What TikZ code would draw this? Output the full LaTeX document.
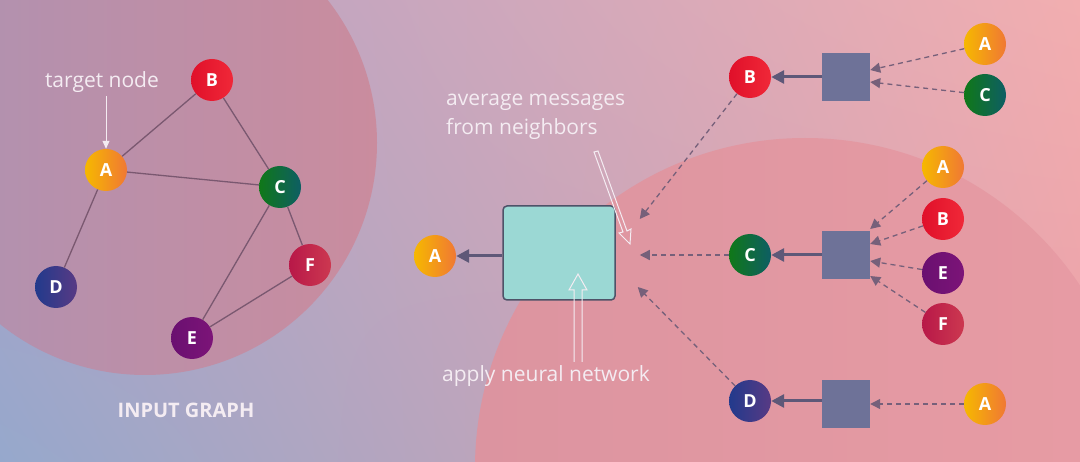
\documentclass[tikz,border=0pt]{standalone}
\usepackage{fontspec}
\setmainfont{Open Sans}
\usetikzlibrary{arrows.meta,shadings}
\definecolor{bgUL}{HTML}{B0A2C6}
\definecolor{bgLL}{HTML}{96A8CC}
\definecolor{bgUR}{HTML}{F2AEB0}
\definecolor{bgLR}{HTML}{EAA0A8}
\definecolor{circL1}{HTML}{AE92B2}
\definecolor{circL2}{HTML}{CA8C9E}
\definecolor{circR1}{HTML}{DC94A0}
\definecolor{circR2}{HTML}{E89CA4}
\definecolor{edgecol}{HTML}{7A5870}
\definecolor{arrcol}{HTML}{5E5878}
\definecolor{dashcol}{HTML}{76607A}
\definecolor{sqcol}{HTML}{6E7298}
\definecolor{boxfill}{HTML}{9BD8D4}
\definecolor{boxdraw}{HTML}{4E5268}
\definecolor{Ayel}{HTML}{F6B800}\definecolor{Aorg}{HTML}{F07834}
\definecolor{Bred1}{HTML}{E0102A}\definecolor{Bred2}{HTML}{F02838}
\definecolor{Cg1}{HTML}{107818}\definecolor{Cg2}{HTML}{0E5E64}
\definecolor{Db1}{HTML}{223A8C}\definecolor{Db2}{HTML}{583A84}
\definecolor{Ep1}{HTML}{6A1070}\definecolor{Ep2}{HTML}{7C1478}
\definecolor{Fr1}{HTML}{B81848}\definecolor{Fr2}{HTML}{CC3850}
\definecolor{labcol}{HTML}{F4ECF2}
\tikzset{
  gn/.style={circle, minimum size=42pt, inner sep=0pt, text=white,
    font=\fontsize{18}{18}\selectfont\bfseries},
  nA/.style={gn, left color=Ayel, right color=Aorg},
  nB/.style={gn, left color=Bred1, right color=Bred2},
  nC/.style={gn, left color=Cg1, right color=Cg2},
  nD/.style={gn, left color=Db1, right color=Db2},
  nE/.style={gn, left color=Ep1, right color=Ep2},
  nF/.style={gn, left color=Fr1, right color=Fr2},
  gedge/.style={draw=edgecol, line width=1.3pt},
  sq/.style={rectangle, fill=sqcol, minimum width=48pt, minimum height=48pt, inner sep=0pt},
  solidarr/.style={draw=arrcol, line width=3pt, -{Triangle[length=13pt,width=13pt]}},
  dasharr/.style={draw=dashcol, line width=1.3pt, dash pattern=on 5pt off 4pt, -{Triangle[length=10pt,width=10pt]}},
  lab/.style={text=labcol, font=\fontsize{21}{29}\selectfont, inner sep=0pt},
  hollow/.style={draw=labcol, line width=1pt}
}
\begin{document}
\begin{tikzpicture}[x=1pt,y=-1pt]
\useasboundingbox (0,0) rectangle (1080,462);
% background
\shade[upper left=bgUL, lower left=bgLL, upper right=bgUR, lower right=bgLR] (0,0) rectangle (1080,462);
\begin{scope}
\clip (0,0) rectangle (1080,462);
\shade[left color=circL1, right color=circL2] (145,143) circle (232);
\shade[left color=circR1, right color=circR2] (805,468) circle (330);
\end{scope}
% left graph
\node[nB] (gB) at (212,80) {B};
\node[nA] (gA) at (106,170) {A};
\node[nC] (gC) at (280,187) {C};
\node[nF] (gF) at (310,265) {F};
\node[nD] (gD) at (56,287) {D};
\node[nE] (gE) at (192,338) {E};
\draw[gedge] (gA) -- (gB);
\draw[gedge] (gA) -- (gC);
\draw[gedge] (gB) -- (gC);
\draw[gedge] (gA) -- (gD);
\draw[gedge] (gC) -- (gF);
\draw[gedge] (gC) -- (gE);
\draw[gedge] (gF) -- (gE);
\node[lab, anchor=center] (tn) at (102,82) {target node};
\coordinate (tnarr) at (106,96);
\draw[draw=labcol, line width=1pt, -{Triangle[length=8pt,width=7pt]}] (tnarr) -- (gA.north);
\node[text=labcol, font=\fontsize{20}{20}\selectfont\bfseries] (ig) at (186,410) {INPUT GRAPH};
% middle
\node[draw=boxdraw, line width=1.5pt, fill=boxfill, rounded corners=4pt, minimum width=112pt, minimum height=94pt, inner sep=0pt] (nn) at (559,253) {};
\node[nA] (mA) at (435,256) {A};
\draw[solidarr] (nn.west |- mA) -- (mA);
\node[lab, anchor=north west, align=left] (avg) at (446,94) {average messages\\from neighbors};
\node[lab, anchor=center] (app) at (546,376) {apply neural network};
% hollow arrows
\draw[hollow] (574,362) -- (574,290) -- (569,290) -- (578,274) -- (587,290) -- (582,290) -- (582,362);
\draw[hollow] (594,152) -- (623,232) -- (619,233) -- (630,244) -- (631,229) -- (627,231) -- (598,151) -- cycle;
% right side
\node[nB] (rB) at (750,77) {B};
\node[sq] (s1) at (846,77) {};
\node[nA] (r1A) at (985,44) {A};
\node[nC] (r1C) at (985,95) {C};
\draw[solidarr] (s1) -- (rB);
\draw[dasharr] (r1A) -- (s1.east |- 0,70);
\draw[dasharr] (r1C) -- (s1.east |- 0,82);

\node[nC] (rC) at (750,255) {C};
\node[sq] (s2) at (846,255) {};
\node[nA] (r2A) at (943,167) {A};
\node[nB] (r2B) at (943,219) {B};
\node[nE] (r2E) at (943,273) {E};
\node[nF] (r2F) at (943,324) {F};
\draw[solidarr] (s2) -- (rC);
\draw[dasharr] (r2A) -- (s2.east |- 0,229);
\draw[dasharr] (r2B) -- (s2.east |- 0,244);
\draw[dasharr] (r2E) -- (s2.east |- 0,261);
\draw[dasharr] (r2F) -- (s2.east |- 0,276);

\node[nD] (rD) at (750,401) {D};
\node[sq] (s3) at (846,404) {};
\node[nA] (r3A) at (985,404) {A};
\draw[solidarr] (s3.west |- rD) -- (rD);
\draw[dasharr] (r3A) -- (s3.east |- r3A);

% into the network box
\coordinate (inB) at ([xshift=24pt]nn.east |- 0,219);
\coordinate (inC) at ([xshift=24pt]nn.east |- rC);
\coordinate (inD) at ([xshift=22pt]nn.east |- 0,287);
\draw[dasharr] (rB) -- (inB);
\draw[dasharr] (rC) -- (inC);
\draw[dasharr] (rD) -- (inD);
\end{tikzpicture}
\end{document}
